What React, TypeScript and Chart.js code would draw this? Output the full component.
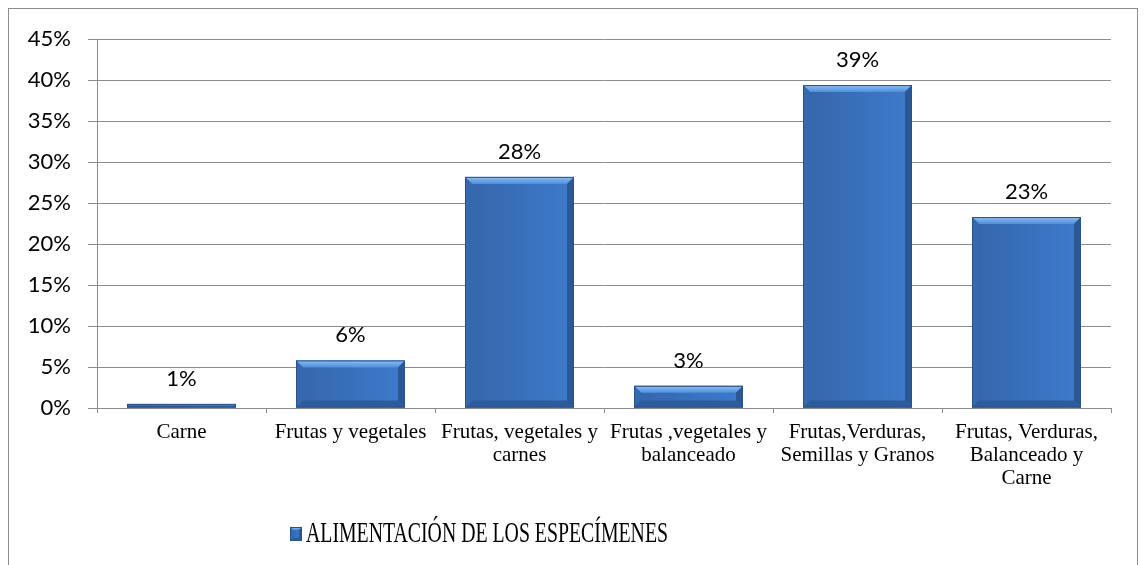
import React, { useEffect, useRef } from "react";
import { Chart, registerables } from "chart.js";

Chart.register(...registerables);

const categories: string[][] = [
  ["Carne"],
  ["Frutas y vegetales"],
  ["Frutas, vegetales y", "carnes"],
  ["Frutas ,vegetales y", "balanceado"],
  ["Frutas,Verduras,", "Semillas y Granos"],
  ["Frutas, Verduras,", "Balanceado y", "Carne"],
];
const values: number[] = [0.5, 5.8, 28.2, 2.7, 39.4, 23.3];
const seriesName = "ALIMENTACIÓN DE LOS ESPECÍMENES";
const yMin = 0;
const yMax = 45;
const yStep = 5;

function drawBevel(ctx: CanvasRenderingContext2D, x0: number, x1: number, y0: number, y1: number) {
  const w = x1 - x0;
  const h = y1 - y0;
  if (h <= 0 || w <= 0) return;
  const b = Math.min(7, h / 3, w / 4);
  ctx.save();
  const g = ctx.createLinearGradient(x0, 0, x1, 0);
  g.addColorStop(0, "#3466aa");
  g.addColorStop(0.5, "#3970bb");
  g.addColorStop(1, "#3d7bcb");
  ctx.fillStyle = g;
  ctx.fillRect(x0, y0, w, h);
  // top bevel
  const gt = ctx.createLinearGradient(0, y0, 0, y0 + b);
  gt.addColorStop(0, "#8ec0f2");
  gt.addColorStop(1, "#4f8edc");
  ctx.fillStyle = gt;
  ctx.beginPath();
  ctx.moveTo(x0, y0);
  ctx.lineTo(x1, y0);
  ctx.lineTo(x1 - b, y0 + b);
  ctx.lineTo(x0 + b, y0 + b);
  ctx.closePath();
  ctx.fill();
  // left bevel
  ctx.fillStyle = "#356aaf";
  ctx.beginPath();
  ctx.moveTo(x0, y0);
  ctx.lineTo(x0 + b, y0 + b);
  ctx.lineTo(x0 + b, y1 - b);
  ctx.lineTo(x0, y1);
  ctx.closePath();
  ctx.fill();
  // right bevel
  ctx.fillStyle = "#2b5794";
  ctx.beginPath();
  ctx.moveTo(x1, y0);
  ctx.lineTo(x1 - b, y0 + b);
  ctx.lineTo(x1 - b, y1 - b);
  ctx.lineTo(x1, y1);
  ctx.closePath();
  ctx.fill();
  // bottom bevel
  ctx.fillStyle = "#2d5c9c";
  ctx.beginPath();
  ctx.moveTo(x0, y1);
  ctx.lineTo(x0 + b, y1 - b);
  ctx.lineTo(x1 - b, y1 - b);
  ctx.lineTo(x1, y1);
  ctx.closePath();
  ctx.fill();
  ctx.strokeStyle = "#2a5189";
  ctx.lineWidth = 1;
  ctx.strokeRect(x0 + 0.5, y0 + 0.5, w - 1, h - 1);
  ctx.restore();
}

const bevelAndLabels = {
  id: "bevelAndLabels",
  afterDatasetsDraw(chart: any) {
    const ctx: CanvasRenderingContext2D = chart.ctx;
    const meta = chart.getDatasetMeta(0);
    const data = chart.data.datasets[0].data as number[];
    meta.data.forEach((el: any, i: number) => {
      const p = el.getProps(["x", "y", "base", "width"], true);
      const x0 = p.x - p.width / 2;
      const x1 = p.x + p.width / 2;
      const top = Math.min(p.y, p.base);
      const bot = Math.max(p.y, p.base);
      drawBevel(ctx, x0, x1, top, bot);
      ctx.save();
      ctx.font = "22px Lato";
      ctx.fillStyle = "#000";
      ctx.textAlign = "center";
      ctx.textBaseline = "alphabetic";
      ctx.fillText(Math.round(data[i]) + "%", p.x, top - 18);
      ctx.restore();
    });
  },
  afterDraw(chart: any) {
    const ctx: CanvasRenderingContext2D = chart.ctx;
    const label = chart.data.datasets[0].label as string;
    const bx = 281;
    const by = 518;
    drawBevel(ctx, bx, bx + 12, by, by + 14);
    ctx.save();
    ctx.font = "30px 'Liberation Serif'";
    ctx.fillStyle = "#000";
    ctx.textBaseline = "alphabetic";
    const tw = ctx.measureText(label).width;
    const sx = 362 / tw;
    ctx.translate(297, 533);
    ctx.scale(sx, 1);
    ctx.fillText(label, 0, 0);
    ctx.restore();
  },
};

export default function App() {
  const ref = useRef<HTMLCanvasElement | null>(null);
  useEffect(() => {
    if (!ref.current) return;
    const chart = new Chart(ref.current, {
      type: "bar",
      data: {
        labels: categories as any,
        datasets: [
          {
            label: seriesName,
            data: values,
            backgroundColor: "#3b74c0",
            borderWidth: 0,
            barPercentage: 0.645,
            categoryPercentage: 1,
          },
        ],
      },
      options: {
        responsive: false,
        animation: false,
        devicePixelRatio: 1,
        layout: { padding: { left: 9, right: 26, top: 29, bottom: 61 } },
        plugins: {
          legend: { display: false },
          tooltip: { enabled: false },
        },
        scales: {
          y: {
            min: yMin,
            max: yMax,
            afterFit: (s: any) => {
              s.width = 79;
            },
            ticks: {
              stepSize: yStep,
              callback: (v: any) => v + "%",
              font: { family: "Lato", size: 22 },
              color: "#000",
              padding: 17,
            },
            grid: { color: "#8c8c8c", lineWidth: 1, tickLength: 9 },
            border: { color: "#8c8c8c" },
          },
          x: {
            afterFit: (s: any) => {
              s.height = 100;
            },
            grid: {
              offset: true,
              drawOnChartArea: false,
              drawTicks: true,
              tickLength: 5,
              color: "#8c8c8c",
            },
            border: { color: "#8c8c8c" },
            ticks: {
              font: { family: "'Liberation Serif'", size: 21, lineHeight: 23 / 21 },
              color: "#000",
              padding: 8,
              maxRotation: 0,
              autoSkip: false,
            },
          },
        },
      },
      plugins: [bevelAndLabels],
    });
    return () => chart.destroy();
  }, []);
  return (
    <div style={{ border: "1px solid #8c8c8c", width: 1128, height: 560 }}>
      <canvas ref={ref} width={1128} height={560} style={{ display: "block" }} />
    </div>
  );
}
